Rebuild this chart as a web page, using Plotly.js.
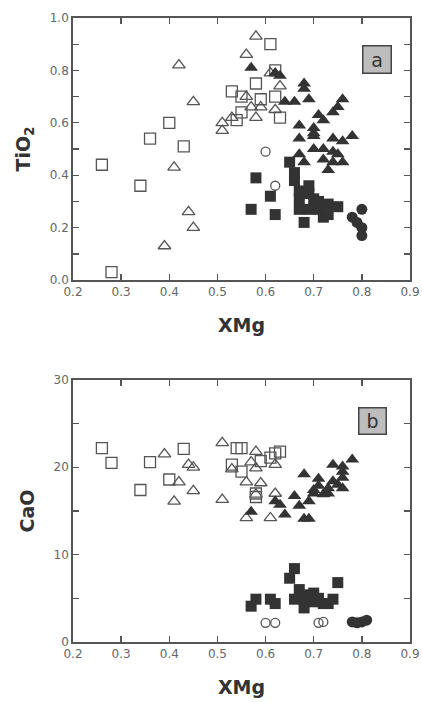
<!DOCTYPE html>
<html>
<head>
<meta charset="utf-8">
<script src="https://cdn.plot.ly/plotly-3.0.1.min.js"></script>
<style>html,body{margin:0;padding:0;background:#fff;}#chart{width:422px;height:702px;}</style>
</head>
<body>
<div id="chart"></div>
<script>
// ---- Panel a: XMg vs TiO2 ----
const aOpenSqX = [0.26,0.28,0.34,0.36,0.40,0.43,0.53,0.54,0.55,0.55,0.58,0.59,0.61,0.62,0.62,0.63];
const aOpenSqY = [0.44,0.03,0.36,0.54,0.60,0.51,0.72,0.61,0.64,0.70,0.75,0.69,0.90,0.80,0.70,0.62];
const aOpenTriX = [0.42,0.45,0.41,0.44,0.45,0.39,0.51,0.51,0.53,0.56,0.56,0.58,0.57,0.58,0.59,0.61,0.63,0.62];
const aOpenTriY = [0.82,0.68,0.43,0.26,0.20,0.13,0.60,0.57,0.62,0.70,0.86,0.93,0.66,0.62,0.66,0.79,0.74,0.65];
const aFillTriX = [0.57,0.62,0.63,0.68,0.68,0.64,0.66,0.69,0.76,0.75,0.74,0.71,0.72,0.67,0.70,0.70,0.70,0.67,0.74,0.76,0.78,0.70,0.72,0.74,0.75,0.76,0.67,0.68,0.73,0.72,0.74];
const aFillTriY = [0.81,0.79,0.78,0.75,0.73,0.68,0.68,0.69,0.69,0.66,0.64,0.63,0.61,0.59,0.58,0.56,0.55,0.54,0.54,0.53,0.55,0.50,0.50,0.49,0.48,0.45,0.48,0.45,0.42,0.46,0.45];
const aFillSqX = [0.58,0.61,0.57,0.62,0.65,0.66,0.66,0.67,0.69,0.67,0.67,0.68,0.70,0.71,0.73,0.75,0.72,0.71,0.69,0.73,0.69];
const aFillSqY = [0.39,0.32,0.27,0.25,0.45,0.41,0.38,0.34,0.33,0.31,0.27,0.22,0.31,0.30,0.29,0.28,0.24,0.27,0.27,0.25,0.36];
const aOpenCirX = [0.60,0.62];
const aOpenCirY = [0.49,0.36];
const aFillCirX = [0.80,0.78,0.79,0.80,0.80];
const aFillCirY = [0.27,0.24,0.22,0.20,0.17];

// ---- Panel b: XMg vs CaO ----
const bOpenSqX = [0.26,0.28,0.34,0.36,0.40,0.43,0.53,0.54,0.55,0.55,0.59,0.61,0.62,0.63,0.58,0.58];
const bOpenSqY = [22.2,20.5,17.4,20.6,18.6,22.1,20.3,22.2,22.2,19.5,20.7,21.1,21.6,21.8,17.0,16.6];
const bOpenTriX = [0.39,0.44,0.45,0.42,0.45,0.41,0.51,0.53,0.51,0.56,0.56,0.57,0.58,0.58,0.59,0.58,0.62,0.62,0.61];
const bOpenTriY = [21.5,20.3,20.0,18.3,17.3,16.1,22.8,19.8,16.3,18.3,14.2,20.6,21.8,19.9,18.2,16.9,20.3,17.0,14.2];
const bFillTriX = [0.57,0.62,0.63,0.64,0.66,0.67,0.68,0.69,0.68,0.69,0.70,0.70,0.71,0.71,0.72,0.73,0.73,0.74,0.74,0.75,0.76,0.76,0.76,0.76,0.78];
const bFillTriY = [14.9,16.1,15.7,14.6,16.7,15.6,14.1,14.1,19.2,16.1,17.0,17.4,17.9,18.7,16.9,17.0,17.6,18.4,20.3,18.0,20.1,19.5,18.8,17.6,20.9];
const bFillSqX = [0.66,0.65,0.75,0.58,0.57,0.61,0.62,0.67,0.66,0.68,0.69,0.70,0.71,0.72,0.74,0.73,0.68,0.70];
const bFillSqY = [8.4,7.3,6.8,4.9,4.1,4.9,4.4,6.0,4.9,3.9,5.4,5.6,5.0,4.4,4.9,4.4,4.8,4.6];
const bOpenCirX = [0.60,0.62,0.71,0.72];
const bOpenCirY = [2.2,2.2,2.2,2.3];
const bFillCirX = [0.78,0.79,0.81,0.80];
const bFillCirY = [2.3,2.2,2.5,2.3];

const xTickVals = [0.2,0.3,0.4,0.5,0.6,0.7,0.8,0.9];

const OPEN = '#555555', FILL = '#333333';
function tr(x, y, sym, size, color, xa, ya) {
  const open = sym.indexOf('open') >= 0;
  return {
    x: x, y: y, xaxis: xa, yaxis: ya, type: 'scatter', mode: 'markers',
    hoverinfo: 'skip', showlegend: false,
    marker: {symbol: sym, size: size, color: color, line: {width: open ? 1.3 : 0, color: color}}
  };
}

const data = [
  tr(aOpenSqX, aOpenSqY, 'square-open', 11, OPEN, 'x', 'y'),
  tr(aOpenTriX, aOpenTriY, 'triangle-up-open', 11, OPEN, 'x', 'y'),
  tr(aOpenCirX, aOpenCirY, 'circle-open', 9, OPEN, 'x', 'y'),
  tr(aFillSqX, aFillSqY, 'square', 11, FILL, 'x', 'y'),
  tr(aFillTriX, aFillTriY, 'triangle-up', 12, FILL, 'x', 'y'),
  tr(aFillCirX, aFillCirY, 'circle', 11, FILL, 'x', 'y'),
  tr(bOpenSqX, bOpenSqY, 'square-open', 11, OPEN, 'x2', 'y2'),
  tr(bOpenTriX, bOpenTriY, 'triangle-up-open', 11, OPEN, 'x2', 'y2'),
  tr(bOpenCirX, bOpenCirY, 'circle-open', 9, OPEN, 'x2', 'y2'),
  tr(bFillSqX, bFillSqY, 'square', 11, FILL, 'x2', 'y2'),
  tr(bFillTriX, bFillTriY, 'triangle-up', 12, FILL, 'x2', 'y2'),
  tr(bFillCirX, bFillCirY, 'circle', 11, FILL, 'x2', 'y2')
];

const tickFont = {family: 'DejaVu Sans, sans-serif', size: 12, color: '#666'};
const titleFont = {family: 'DejaVu Sans, sans-serif', size: 19, color: '#333', weight: 'bold'};
function xax(anchor) {
  return {
    anchor: anchor, range: [0.2, 0.9], tickmode: 'array', tickvals: xTickVals, tickformat: '.1f',
    ticks: 'inside', ticklen: 6, tickwidth: 1.3, tickcolor: '#555', mirror: 'ticks',
    showline: true, linecolor: '#555', linewidth: 1.8, showgrid: false, zeroline: false,
    tickfont: tickFont, title: {text: 'XMg', font: titleFont, standoff: 20}
  };
}
function yax(anchor, range, dtick, minor, fmt, title, domain) {
  return {
    anchor: anchor, domain: domain, range: range, dtick: dtick, tick0: 0, tickformat: fmt,
    ticks: 'inside', ticklen: 6, tickwidth: 1.3, tickcolor: '#555', mirror: 'ticks',
    minor: {dtick: minor, ticks: 'inside', ticklen: 6, tickwidth: 1.3, tickcolor: '#555'},
    showline: true, linecolor: '#555', linewidth: 1.8, showgrid: false, zeroline: false,
    tickfont: tickFont, title: {text: title, font: titleFont, standoff: 14}
  };
}

const layout = {
  width: 422, height: 702,
  margin: {l: 73, r: 12, t: 18, b: 60},
  paper_bgcolor: '#ffffff', plot_bgcolor: '#ffffff',
  xaxis: xax('y'),
  yaxis: yax('x', [0, 1.0], 0.2, 0.1, '.1f', 'TiO<sub>2</sub>', [0.58, 1]),
  xaxis2: xax('y2'),
  yaxis2: yax('x2', [0, 30], 10, 5, 'd', 'CaO', [0, 0.42]),
  annotations: [
    {xref: 'x', yref: 'y', x: 0.832, y: 0.843, text: 'a', showarrow: false,
     font: {family: 'DejaVu Sans, sans-serif', size: 19, color: '#333'},
     bgcolor: '#bdbdbd', bordercolor: '#444', borderwidth: 1.5, width: 25, height: 24, borderpad: 1},
    {xref: 'x2', yref: 'y2', x: 0.823, y: 25.3, text: 'b', showarrow: false,
     font: {family: 'DejaVu Sans, sans-serif', size: 19, color: '#333'},
     bgcolor: '#bdbdbd', bordercolor: '#444', borderwidth: 1.5, width: 24, height: 23, borderpad: 1}
  ]
};

Plotly.newPlot('chart', data, layout, {displayModeBar: false, staticPlot: true});
</script>
</body>
</html>
